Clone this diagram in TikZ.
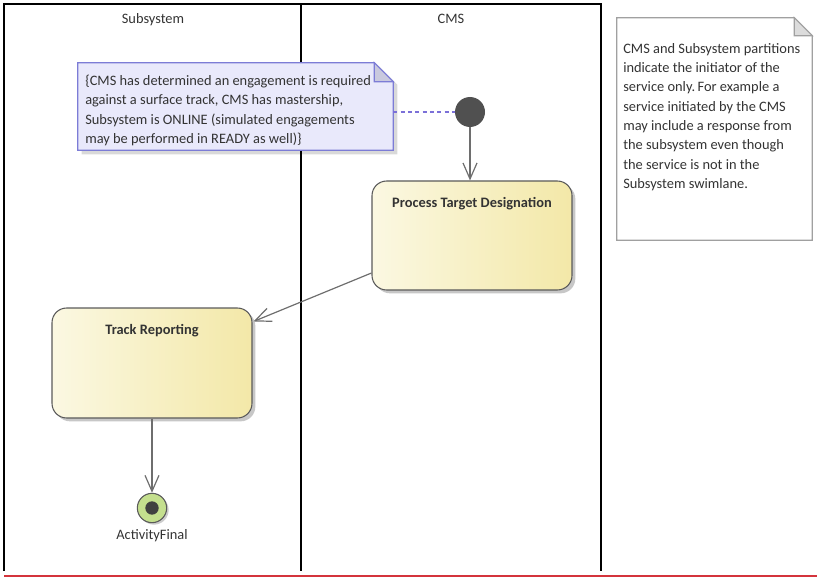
\documentclass[tikz,border=0pt]{standalone}
\usepackage{fontspec}
\setmainfont{Carlito}
\usetikzlibrary{arrows.meta,shadows,calc}
\frenchspacing
\definecolor{txt}{HTML}{333333}
\definecolor{actl}{HTML}{FBF8E2}
\definecolor{actr}{HTML}{F3E8A8}
\definecolor{actb}{HTML}{5A5A5A}
\definecolor{notel}{HTML}{E9E9FB}
\definecolor{noteb}{HTML}{7C7CD6}
\definecolor{notefold}{HTML}{C9C9DE}
\definecolor{linkc}{HTML}{7B70D8}
\definecolor{note2b}{HTML}{A0A0A0}
\definecolor{note2fold}{HTML}{DCDCDC}
\definecolor{initc}{HTML}{505050}
\definecolor{finout}{HTML}{C4DF8E}
\definecolor{finin}{HTML}{404040}
\definecolor{flowc}{HTML}{6E6E6E}
\definecolor{redc}{HTML}{D4343C}
\begin{document}
\begin{tikzpicture}[x=0.75pt,y=-0.75pt,
  lane/.style={draw=black,line width=1pt},
  hdr/.style={font=\fontsize{10.8}{13}\selectfont,text=txt,anchor=base,inner sep=0pt},
  act/.style={draw=actb,line width=0.8pt,rounded corners=11pt,left color=actl,right color=actr,
    drop shadow={shadow xshift=2.5pt,shadow yshift=-2.5pt,fill=black,opacity=0.22}},
  actlab/.style={font=\bfseries\fontsize{10.8}{13}\selectfont,text=txt,anchor=base,inner sep=0pt},
  flow/.style={draw=flowc,line width=0.9pt,-{Straight Barb[length=12pt,width=10.5pt,line width=0.9pt]}},
  notelink/.style={draw=linkc,line width=0.9pt,dash pattern=on 3pt off 2.5pt},
  notetext/.style={font=\fontsize{10.8}{14.5}\selectfont,text=txt,align=left,anchor=base west,inner sep=0pt},
  ghost/.style={draw=none,fill=none,inner sep=0pt}
]
\useasboundingbox (0,0) rectangle (817,581);

% swimlanes
\draw[lane] (4,571) -- (4,4) -- (601,4) -- (601,571);
\draw[lane] (301,4) -- (301,571);
\node[hdr] (hsub) at (153,23.5) {Subsystem};
\node[hdr] (hcms) at (451,23.5) {CMS};

% bottom red rule
\draw[redc,line width=2.2pt] (4,576) -- (817,576);

% note 1
\node[ghost,minimum width=236.25pt,minimum height=65.25pt] (note1) at (235.5,106.5) {};
\fill[black,opacity=0.15] ($(note1.north west)+(4,4)$) -- ($(note1.north east)+(-14,4)$) -- ($(note1.north east)+(4,22)$) -- ($(note1.south east)+(4,4)$) -- ($(note1.south west)+(4,4)$) -- cycle;
\filldraw[fill=notel,draw=noteb,line width=0.8pt] (note1.north west) -- ($(note1.north east)+(-19,0)$) -- ($(note1.north east)+(0,19)$) -- (note1.south east) -- (note1.south west) -- cycle;
\filldraw[fill=notefold,draw=noteb,line width=0.8pt] ($(note1.north east)+(-19,0)$) -- ($(note1.north east)+(-19,19)$) -- ($(note1.north east)+(0,19)$) -- cycle;
\node[notetext] (note1t) at (85,143.5) {\{CMS has determined an engagement is required\\against a surface track, CMS has mastership,\\Subsystem is ONLINE (simulated engagements\\may be performed in READY as well)\}};

% note 2
\node[ghost,minimum width=146.25pt,minimum height=166.5pt] (note2) at (714.5,129) {};
\filldraw[fill=white,draw=note2b,line width=0.8pt] (note2.north west) -- ($(note2.north east)+(-18,0)$) -- ($(note2.north east)+(0,18)$) -- (note2.south east) -- (note2.south west) -- cycle;
\filldraw[fill=note2fold,draw=note2b,line width=0.8pt] ($(note2.north east)+(-18,0)$) -- ($(note2.north east)+(-18,18)$) -- ($(note2.north east)+(0,18)$) -- cycle;
\node[notetext] (note2t) at (623,188.5) {CMS and Subsystem partitions\\indicate the initiator of the\\service only.\,For example a\\service initiated by the CMS\\may include a response from\\the subsystem even though\\the service is not in the\\Subsystem swimlane.};

% initial node
\node[circle,fill=initc,minimum size=22.5pt,inner sep=0pt] (init) at (470,112) {};

% actions
\node[act,minimum width=150pt,minimum height=81.75pt] (ptd) at (472,235.5) {};
\node[actlab] (ptdl) at (472,207.5) {Process Target Designation};
\node[act,minimum width=150pt,minimum height=82.5pt] (tr) at (152,363) {};
\node[actlab] (trl) at (152,334.5) {Track Reporting};

% final node
\node[circle,draw=actb,line width=0.8pt,fill=finout,minimum size=22pt,inner sep=0pt,
  drop shadow={shadow xshift=1.5pt,shadow yshift=-1.5pt,fill=black,opacity=0.2}] (fin) at (152,508) {};
\node[circle,fill=finin,minimum size=10pt,inner sep=0pt] (finc) at (fin) {};
\node[hdr] (finl) at (152,539) {ActivityFinal};

% connectors
\draw[notelink] (note1.east |- init) -- (init.west);
\draw[flow] (init) -- (init |- ptd.north);
\draw[flow] ($(ptd.west)+(0,37.5)$) -- ($(tr.north east)+(1,14)$);
\draw[flow] (tr.south) -- (fin.north);
\end{tikzpicture}
\end{document}
